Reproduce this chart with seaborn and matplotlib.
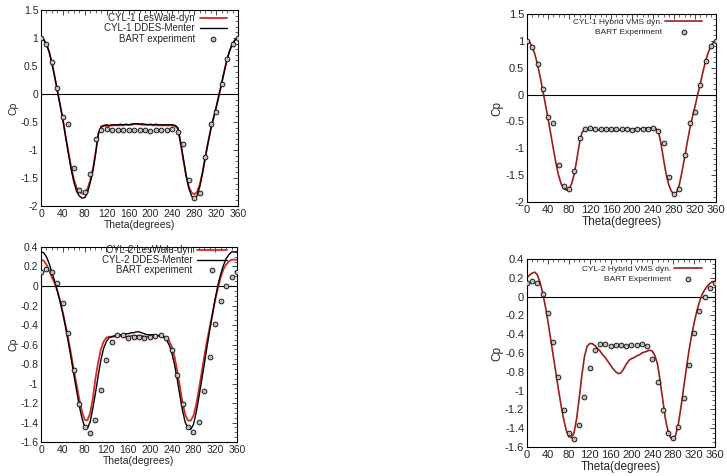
import seaborn as sns
import pandas as pd
import matplotlib.pyplot as plt
from matplotlib.ticker import MultipleLocator, FuncFormatter

# angle grids (degrees)
theta = list(range(0, 361, 5))
theta_exp = list(range(0, 361, 10))

# BART experiment
cyl1_exp = [1.00, 0.89, 0.57, 0.11, -0.41, -0.53, -1.32, -1.71, -1.75, -1.42,
            -0.81, -0.65, -0.63, -0.64, -0.64, -0.65, -0.65, -0.65, -0.65, -0.65,
            -0.66, -0.65, -0.64, -0.64, -0.63, -0.67, -0.90, -1.54, -1.85, -1.76,
            -1.13, -0.53, -0.33, 0.17, 0.62, 0.90, 1.00]
cyl2_exp = [0.14, 0.17, 0.14, 0.03, -0.17, -0.48, -0.86, -1.21, -1.45, -1.51,
            -1.37, -1.07, -0.76, -0.57, -0.50, -0.50, -0.53, -0.52, -0.52, -0.53,
            -0.52, -0.51, -0.50, -0.53, -0.66, -0.91, -1.21, -1.45, -1.50, -1.39,
            -1.08, -0.73, -0.39, -0.15, 0.00, 0.09, 0.14]

# CYL-1 simulations
cyl1_les = [1.00, 0.97, 0.89, 0.75, 0.55, 0.31, 0.05, -0.20, -0.45, -0.75,
            -1.03, -1.30, -1.52, -1.67, -1.75, -1.78, -1.77, -1.69, -1.54, -1.33,
            -1.03, -0.70, -0.59, -0.57, -0.57, -0.57, -0.56, -0.56, -0.56, -0.56,
            -0.56, -0.55, -0.55, -0.55, -0.54, -0.54, -0.54, -0.55, -0.55, -0.55,
            -0.55, -0.56, -0.56, -0.56, -0.56, -0.56, -0.56, -0.56, -0.56, -0.57,
            -0.62, -0.88, -1.17, -1.45, -1.65, -1.76, -1.79, -1.75, -1.62, -1.40,
            -1.14, -0.88, -0.64, -0.44, -0.24, -0.03, 0.19, 0.41, 0.62, 0.78,
            0.90, 0.97, 1.00]
cyl1_ddes = [1.00, 0.97, 0.89, 0.75, 0.55, 0.31, 0.05, -0.20, -0.46, -0.77,
             -1.06, -1.34, -1.57, -1.74, -1.82, -1.86, -1.85, -1.76, -1.58, -1.36,
             -1.05, -0.70, -0.58, -0.56, -0.55, -0.56, -0.55, -0.55, -0.55, -0.54,
             -0.55, -0.54, -0.55, -0.54, -0.53, -0.53, -0.54, -0.53, -0.54, -0.55,
             -0.54, -0.55, -0.54, -0.55, -0.55, -0.55, -0.55, -0.55, -0.55, -0.56,
             -0.60, -0.85, -1.15, -1.45, -1.68, -1.82, -1.87, -1.82, -1.66, -1.42,
             -1.14, -0.88, -0.64, -0.44, -0.24, -0.03, 0.19, 0.41, 0.62, 0.78,
             0.90, 0.97, 1.00]
cyl1_vms = [1.00, 0.97, 0.89, 0.75, 0.56, 0.33, 0.08, -0.18, -0.44, -0.72,
            -1.00, -1.27, -1.50, -1.66, -1.75, -1.78, -1.76, -1.66, -1.48, -1.20,
            -0.90, -0.70, -0.65, -0.65, -0.65, -0.65, -0.65, -0.66, -0.66, -0.66,
            -0.66, -0.66, -0.67, -0.67, -0.67, -0.66, -0.66, -0.66, -0.65, -0.65,
            -0.65, -0.64, -0.64, -0.64, -0.63, -0.63, -0.62, -0.62, -0.62, -0.63,
            -0.68, -0.90, -1.20, -1.48, -1.68, -1.80, -1.85, -1.82, -1.68, -1.45,
            -1.18, -0.90, -0.64, -0.42, -0.22, 0.00, 0.20, 0.42, 0.62, 0.78,
            0.90, 0.97, 1.00]

# CYL-2 simulations
cyl2_les = [0.27, 0.26, 0.22, 0.16, 0.09, 0.03, -0.05, -0.15, -0.27, -0.40,
            -0.54, -0.69, -0.85, -1.00, -1.15, -1.28, -1.37, -1.38, -1.31, -1.16,
            -0.95, -0.78, -0.65, -0.57, -0.53, -0.52, -0.52, -0.52, -0.51, -0.51,
            -0.52, -0.52, -0.52, -0.51, -0.51, -0.51, -0.51, -0.51, -0.52, -0.52,
            -0.52, -0.52, -0.51, -0.51, -0.51, -0.52, -0.53, -0.56, -0.62, -0.72,
            -0.86, -1.03, -1.20, -1.32, -1.38, -1.38, -1.33, -1.22, -1.06, -0.89,
            -0.72, -0.56, -0.42, -0.28, -0.14, -0.02, 0.09, 0.17, 0.22, 0.25,
            0.27, 0.27, 0.27]
cyl2_ddes = [0.35, 0.34, 0.30, 0.23, 0.14, 0.05, -0.05, -0.16, -0.28, -0.42,
             -0.57, -0.73, -0.90, -1.06, -1.22, -1.35, -1.44, -1.46, -1.40, -1.26,
             -1.10, -0.92, -0.76, -0.64, -0.57, -0.53, -0.52, -0.51, -0.51, -0.50,
             -0.50, -0.49, -0.49, -0.48, -0.48, -0.47, -0.47, -0.48, -0.49, -0.50,
             -0.50, -0.50, -0.50, -0.51, -0.51, -0.52, -0.55, -0.60, -0.68, -0.80,
             -0.95, -1.12, -1.28, -1.40, -1.46, -1.47, -1.42, -1.30, -1.14, -0.97,
             -0.80, -0.62, -0.45, -0.29, -0.13, 0.01, 0.12, 0.21, 0.28, 0.32,
             0.35, 0.35, 0.35]
cyl2_vms = [0.20, 0.23, 0.25, 0.26, 0.23, 0.15, 0.04, -0.10, -0.26, -0.44,
            -0.62, -0.80, -0.98, -1.15, -1.30, -1.42, -1.49, -1.50, -1.45, -1.30,
            -1.08, -0.84, -0.64, -0.53, -0.50, -0.50, -0.52, -0.55, -0.58, -0.62,
            -0.65, -0.69, -0.73, -0.77, -0.80, -0.82, -0.81, -0.77, -0.72, -0.68,
            -0.66, -0.65, -0.63, -0.62, -0.60, -0.59, -0.58, -0.57, -0.58, -0.63,
            -0.72, -0.90, -1.10, -1.30, -1.43, -1.50, -1.52, -1.47, -1.35, -1.17,
            -0.97, -0.77, -0.58, -0.42, -0.28, -0.16, -0.06, 0.02, 0.07, 0.11,
            0.14, 0.16, 0.16]

sns.set_style('white')
plt.rcParams['font.family'] = ['Liberation Sans', 'DejaVu Sans']

RED = '#d42a2a'
DARKRED = '#9e1b1b'
exp_style = dict(marker='o', s=12, color='#bdbdbd', edgecolor='black', linewidth=0.6, zorder=4)


def style_axes(ax, ylim, ymajor, yminor, fs=7.5, lfs=7.5):
    ax.set_xlim(0, 360)
    ax.set_ylim(*ylim)
    ax.xaxis.set_major_locator(MultipleLocator(40))
    ax.xaxis.set_minor_locator(MultipleLocator(10))
    ax.yaxis.set_major_locator(MultipleLocator(ymajor))
    ax.yaxis.set_minor_locator(MultipleLocator(yminor))
    ax.yaxis.set_major_formatter(FuncFormatter(lambda v, p: '%g' % round(v, 2)))
    ax.tick_params(which='both', direction='in', top=True, right=True, labelsize=fs, pad=2)
    ax.tick_params(which='major', length=3.5, width=0.6)
    ax.tick_params(which='minor', length=2, width=0.5)
    for s in ax.spines.values():
        s.set_linewidth(0.8)
        s.set_color('black')
    ax.axhline(0, color='black', lw=0.8, zorder=1)
    ax.set_xlabel('Theta(degrees)', fontsize=lfs, labelpad=1)
    ax.set_ylabel('Cp', fontsize=lfs, labelpad=1)


fig = plt.figure(figsize=(7.27, 4.76), dpi=100)
ax_tl = fig.add_axes([0.0564, 0.5672, 0.271, 0.4118])
ax_tr = fig.add_axes([0.7249, 0.5756, 0.26, 0.395])
ax_bl = fig.add_axes([0.0564, 0.0714, 0.2696, 0.4097])
ax_br = fig.add_axes([0.7249, 0.0609, 0.2586, 0.395])

# top left
sns.lineplot(x=theta, y=cyl1_les, ax=ax_tl, color=RED, lw=1.3, label='CYL-1 LesWale-dyn')
sns.lineplot(x=theta, y=cyl1_ddes, ax=ax_tl, color='black', lw=1.0, label='CYL-1 DDES-Menter')
sns.scatterplot(x=theta_exp, y=cyl1_exp, ax=ax_tl, label='BART experiment', **exp_style)
style_axes(ax_tl, (-2, 1.5), 0.5, 0.1)

# top right
sns.lineplot(x=theta, y=cyl1_vms, ax=ax_tr, color=DARKRED, lw=1.2, label='CYL-1 Hybrid VMS dyn.')
sns.scatterplot(x=theta_exp, y=cyl1_exp, ax=ax_tr, label='BART Experiment', **exp_style)
style_axes(ax_tr, (-2, 1.5), 0.5, 0.1, fs=8, lfs=8.5)

# bottom left
sns.lineplot(x=theta, y=cyl2_les, ax=ax_bl, color=RED, lw=1.3, label='CYL-2 LesWale-dyn')
sns.lineplot(x=theta, y=cyl2_ddes, ax=ax_bl, color='black', lw=1.0, label='CYL-2 DDES-Menter')
sns.scatterplot(x=theta_exp, y=cyl2_exp, ax=ax_bl, label='BART experiment', **exp_style)
style_axes(ax_bl, (-1.6, 0.4), 0.2, 0.05)

# bottom right
sns.lineplot(x=theta, y=cyl2_vms, ax=ax_br, color=DARKRED, lw=1.2, label='CYL-2 Hybrid VMS dyn.')
sns.scatterplot(x=theta_exp, y=cyl2_exp, ax=ax_br, label='BART Experiment', **exp_style)
style_axes(ax_br, (-1.6, 0.4), 0.2, 0.05, fs=8, lfs=8.5)

legend_opts = [
    (ax_tl, 7, (0.944, 0.985), 2.8, 0.5, 0.05),
    (ax_bl, 7, (0.95, 1.01), 3.1, 0.5, 0.0),
    (ax_tr, 6, (0.926, 0.976), 4.4, 0.4, 0.25),
    (ax_br, 6, (0.93, 0.968), 3.3, 0.4, 0.3),
]
for ax, fs, anchor, hl, pad, sp in legend_opts:
    ax.legend(loc='upper right', bbox_to_anchor=anchor, frameon=False, markerfirst=False,
              fontsize=fs, handlelength=hl, handletextpad=pad, labelspacing=sp,
              borderaxespad=0, borderpad=0)

fig.savefig('out.png', dpi=100)
